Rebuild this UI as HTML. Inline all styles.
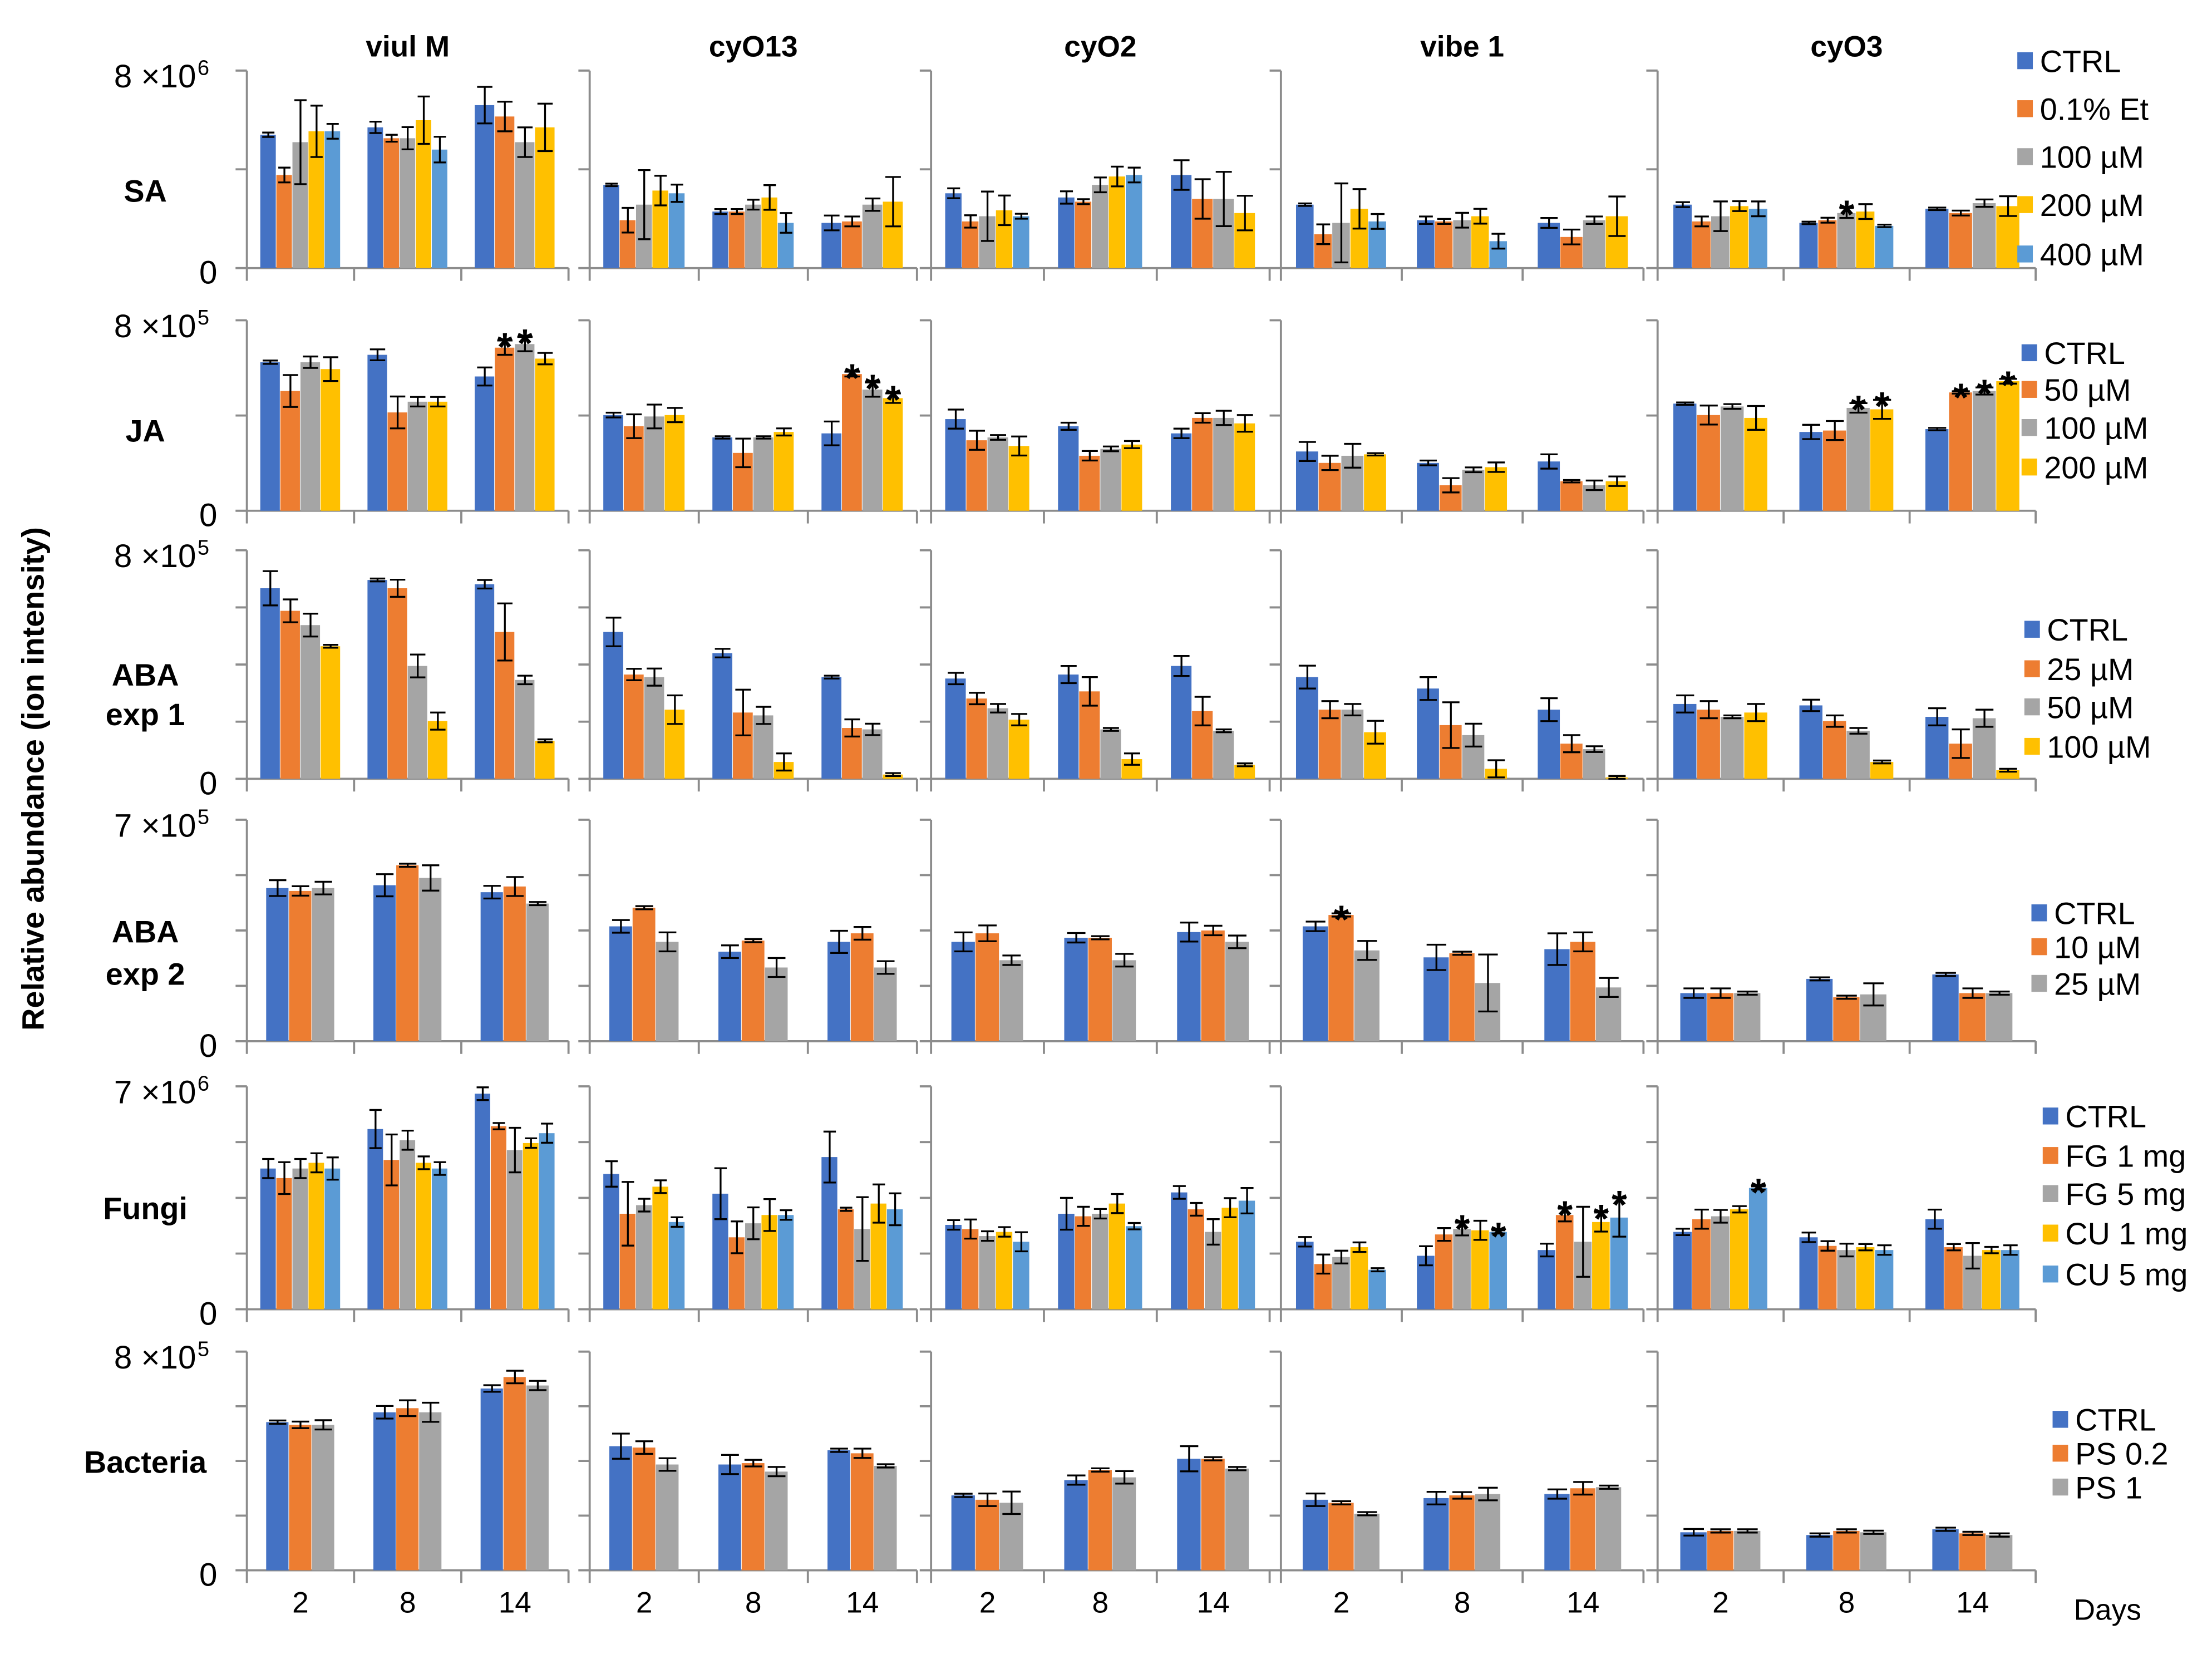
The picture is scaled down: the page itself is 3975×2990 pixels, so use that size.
<!DOCTYPE html>
<html><head><meta charset="utf-8"><style>
html,body{margin:0;padding:0;background:#fff;}
svg{display:block;font-family:"Liberation Sans",Arial,sans-serif;}
</style></head><body>
<svg id="chart" width="3975" height="2990" viewBox="0 0 1568 1179.4" xmlns="http://www.w3.org/2000/svg">
<text x="0" y="0" transform="translate(31,552) rotate(-90)" text-anchor="middle" font-size="22" font-weight="bold">Relative abundance  (ion intensity)</text>
<text x="1470" y="1148" font-size="21">Days</text>
</svg>
<script>
const colNames = ['viul M','cyO13','cyO2','vibe 1','cyO3'];
const days = ['2','8','14'];
const colors = ['#4472C4','#ED7D31','#A5A5A5','#FFC000','#5B9BD5'];

const saMeans = [
 [[5.4,3.77,5.1,5.54,5.54],[5.7,5.26,5.26,5.99,4.8],[6.6,6.14,5.1,5.7]],
 [[3.37,1.94,2.57,3.14,3.03],[2.29,2.29,2.57,2.86,1.83],[1.83,1.89,2.57,2.69]],
 [[3.03,1.89,2.1,2.34,2.1],[2.86,2.69,3.37,3.71,3.77],[3.77,2.8,2.8,2.23]],
 [[2.57,1.37,1.83,2.4,1.89],[1.94,1.89,1.94,2.1,1.09],[1.83,1.26,1.94,2.1]],
 [[2.57,1.89,2.1,2.51,2.4],[1.83,1.94,2.23,2.29,1.71],[2.4,2.23,2.63,2.51]]];
const saErrs = [
 [[0.09,0.3,1.7,1.04,0.3],[0.23,0.14,0.45,0.96,0.52],[0.74,0.6,0.6,0.96]],
 [[0.05,0.5,1.4,0.6,0.35],[0.1,0.1,0.2,0.5,0.4],[0.3,0.2,0.25,1.0]],
 [[0.2,0.25,1.0,0.6,0.1],[0.25,0.1,0.3,0.4,0.3],[0.6,0.8,1.1,0.7]],
 [[0.05,0.4,1.6,0.8,0.3],[0.15,0.1,0.3,0.3,0.3],[0.2,0.3,0.15,0.8]],
 [[0.1,0.2,0.6,0.2,0.3],[0.05,0.1,0.2,0.3,0.05],[0.05,0.1,0.15,0.4]]];
const jaMeans = [
 [[6.24,5.03,6.24,5.95],[6.55,4.13,4.58,4.58],[5.64,6.85,7.0,6.39]],
 [[4.02,3.55,3.96,4.02],[3.08,2.43,3.08,3.31],[3.25,5.74,5.09,4.73]],
 [[3.85,2.96,3.08,2.72],[3.55,2.31,2.6,2.78],[3.25,3.9,3.9,3.67]],
 [[2.49,2.01,2.31,2.37],[2.01,1.07,1.72,1.83],[2.07,1.24,1.07,1.24]],
 [[4.5,4.02,4.38,3.9],[3.31,3.37,4.32,4.26],[3.43,4.97,5.03,5.44]]];
const jaErrs = [
 [[0.07,0.67,0.24,0.5],[0.23,0.67,0.2,0.2],[0.38,0.3,0.3,0.24]],
 [[0.1,0.5,0.5,0.3],[0.05,0.6,0.05,0.15],[0.5,0.1,0.3,0.2]],
 [[0.4,0.4,0.1,0.4],[0.15,0.2,0.1,0.15],[0.2,0.2,0.3,0.35]],
 [[0.4,0.3,0.5,0.05],[0.1,0.3,0.1,0.2],[0.3,0.05,0.2,0.2]],
 [[0.05,0.4,0.1,0.5],[0.3,0.4,0.2,0.4],[0.05,0.05,0.15,0.1]]];
const aba1Means = [
 [[6.67,5.88,5.38,4.64],[6.96,6.67,3.95,2.02],[6.81,5.14,3.46,1.33]],
 [[5.14,3.65,3.56,2.42],[4.4,2.32,2.22,0.59],[3.56,1.78,1.73,0.15]],
 [[3.51,2.81,2.47,2.07],[3.65,3.06,1.73,0.69],[3.95,2.37,1.68,0.49]],
 [[3.56,2.42,2.42,1.63],[3.16,1.88,1.53,0.35],[2.42,1.23,1.04,0.05]],
 [[2.62,2.42,2.17,2.32],[2.57,2.02,1.68,0.59],[2.17,1.23,2.12,0.3]]];
const aba1Errs = [
 [[0.6,0.4,0.4,0.05],[0.05,0.3,0.4,0.3],[0.15,1.0,0.15,0.05]],
 [[0.5,0.2,0.3,0.5],[0.15,0.8,0.3,0.3],[0.05,0.3,0.2,0.05]],
 [[0.2,0.2,0.15,0.2],[0.3,0.5,0.05,0.2],[0.35,0.5,0.05,0.05]],
 [[0.4,0.3,0.2,0.4],[0.4,0.8,0.4,0.3],[0.4,0.3,0.1,0.05]],
 [[0.3,0.3,0.05,0.3],[0.2,0.2,0.1,0.05],[0.3,0.5,0.3,0.05]]];
const aba2Means = [
 [[4.84,4.75,4.84],[4.93,5.56,5.16],[4.71,4.89,4.35]],
 [[3.63,4.22,3.14],[2.83,3.18,2.33],[3.14,3.41,2.33]],
 [[3.14,3.41,2.56],[3.27,3.27,2.56],[3.45,3.5,3.14]],
 [[3.63,3.99,2.87],[2.65,2.78,1.84],[2.91,3.14,1.7]],
 [[1.52,1.52,1.52],[1.97,1.39,1.48],[2.11,1.52,1.52]]];
const aba2Errs = [
 [[0.25,0.15,0.2],[0.35,0.05,0.4],[0.2,0.3,0.05]],
 [[0.2,0.05,0.3],[0.2,0.05,0.3],[0.35,0.2,0.2]],
 [[0.3,0.25,0.15],[0.15,0.05,0.2],[0.3,0.15,0.2]],
 [[0.15,0.05,0.3],[0.4,0.05,0.9],[0.5,0.3,0.3]],
 [[0.15,0.15,0.05],[0.05,0.05,0.35],[0.05,0.15,0.05]]];
const fungiMeans = [
 [[4.42,4.12,4.42,4.6,4.42],[5.66,4.69,5.31,4.6,4.42],[6.77,5.75,5.0,5.22,5.53]],
 [[4.25,3.0,3.27,3.85,2.74],[3.63,2.26,2.7,2.96,2.96],[4.78,3.14,2.52,3.32,3.14]],
 [[2.65,2.52,2.3,2.43,2.12],[3.0,2.92,3.0,3.32,2.61],[3.67,3.14,2.43,3.19,3.41]],
 [[2.12,1.42,1.64,1.95,1.24],[1.68,2.35,2.52,2.48,2.43],[1.86,2.96,2.12,2.74,2.88]],
 [[2.43,2.83,2.92,3.14,3.81],[2.26,1.99,1.86,1.95,1.86],[2.83,1.95,1.68,1.86,1.86]]];
const fungiErrs = [
 [[0.3,0.5,0.3,0.3,0.35],[0.6,0.8,0.3,0.2,0.2],[0.2,0.1,0.7,0.15,0.3]],
 [[0.4,1.0,0.2,0.2,0.15],[0.8,0.5,0.5,0.5,0.15],[0.8,0.05,1.0,0.6,0.5]],
 [[0.15,0.3,0.15,0.15,0.3],[0.5,0.3,0.15,0.3,0.1],[0.2,0.2,0.4,0.3,0.4]],
 [[0.15,0.3,0.2,0.15,0.05],[0.3,0.2,0.2,0.3,0.05],[0.2,0.2,1.1,0.3,0.6]],
 [[0.1,0.3,0.2,0.1,0.05],[0.15,0.15,0.2,0.1,0.15],[0.3,0.1,0.4,0.1,0.15]]];
const bactMeans = [
 [[5.42,5.32,5.32],[5.78,5.93,5.78],[6.65,7.07,6.76]],
 [[4.54,4.49,3.87],[3.87,3.92,3.61],[4.39,4.28,3.82]],
 [[2.74,2.58,2.47],[3.3,3.67,3.4],[4.08,4.08,3.72]],
 [[2.58,2.47,2.07],[2.64,2.74,2.79],[2.79,3.0,3.04]],
 [[1.39,1.44,1.44],[1.29,1.44,1.39],[1.5,1.35,1.29]]];
const bactErrs = [
 [[0.06,0.12,0.17],[0.23,0.29,0.35],[0.12,0.23,0.17]],
 [[0.46,0.23,0.23],[0.35,0.12,0.17],[0.06,0.17,0.06]],
 [[0.06,0.23,0.41],[0.17,0.06,0.23],[0.46,0.06,0.06]],
 [[0.23,0.06,0.06],[0.23,0.12,0.23],[0.17,0.23,0.06]],
 [[0.12,0.06,0.06],[0.06,0.06,0.06],[0.06,0.06,0.06]]];

const saStars = [[4,1,2]];
const jaStars = [[0,2,1],[0,2,2],[1,2,1],[1,2,2],[1,2,3],[4,1,2],[4,1,3],[4,2,1],[4,2,2],[4,2,3]];
const aba2Stars = [[3,0,1]];
const fungiStars = [[3,1,2],[3,1,4],[3,2,1],[3,2,3],[3,2,4],[4,0,4]];

const saLegend = ['CTRL','0.1% Et','100 µM','200 µM','400 µM'];
const jaLegend = ['CTRL','50 µM','100 µM','200 µM'];
const aba1Legend = ['CTRL','25 µM','50 µM','100 µM'];
const aba2Legend = ['CTRL','10 µM','25 µM'];
const fungiLegend = ['CTRL','FG 1 mg','FG 5 mg','CU 1 mg','CU 5 mg'];
const bactLegend = ['CTRL','PS 0.2','PS 1'];

// layout
const cols = [{x:175,w:228},{x:418,w:232},{x:660,w:240},{x:908,w:257},{x:1175,w:268}];
const rows = [
 {id:'sa',label:['SA'],ly:[135],top:50,base:190,max:8,ticks:2,top1:'8 ×10',sup:'6',means:saMeans,errs:saErrs,stars:saStars,legend:saLegend,lx:1430,lys:[43,77,111,145,180]},
 {id:'ja',label:['JA'],ly:[305],top:227,base:362,max:8,ticks:2,top1:'8 ×10',sup:'5',means:jaMeans,errs:jaErrs,stars:jaStars,legend:jaLegend,lx:1433,lys:[250,276,303,331]},
 {id:'aba1',label:['ABA','exp 1'],ly:[478,506],top:390,base:552,max:8,ticks:4,top1:'8 ×10',sup:'5',means:aba1Means,errs:aba1Errs,stars:[],legend:aba1Legend,lx:1435,lys:[446,474,501,529]},
 {id:'aba2',label:['ABA','exp 2'],ly:[660,690],top:581,base:738,max:7,ticks:4,top1:'7 ×10',sup:'5',means:aba2Means,errs:aba2Errs,stars:aba2Stars,legend:aba2Legend,lx:1440,lys:[647,671,697]},
 {id:'fungi',label:['Fungi'],ly:[856],top:770,base:928,max:7,ticks:4,top1:'7 ×10',sup:'6',means:fungiMeans,errs:fungiErrs,stars:fungiStars,legend:fungiLegend,lx:1448,lys:[791,819,846,874,903]},
 {id:'bacteria',label:['Bacteria'],ly:[1036],top:958,base:1113,max:8,ticks:4,top1:'8 ×10',sup:'5',means:bactMeans,errs:bactErrs,stars:[],legend:bactLegend,lx:1455,lys:[1006,1030,1054]}
];

const svg = document.getElementById('chart');
const NS = 'http://www.w3.org/2000/svg';
function mk(tag, attrs, parent){
  const e = document.createElementNS(NS, tag);
  for (const k in attrs) e.setAttribute(k, attrs[k]);
  (parent||svg).appendChild(e);
  return e;
}
const AX = '#8c8c8c';

colNames.forEach((n,i)=>{
  const t = mk('text',{x:cols[i].x+cols[i].w/2,y:40,'text-anchor':'middle','font-size':21,'font-weight':'bold'});
  
  
  t.textContent = n;
});

rows.forEach((r)=>{
  const g = mk('g',{});
  
  
  const yv = v => r.base - v/r.max*(r.base-r.top);
  r.label.forEach((s,k)=>{
    const t = mk('text',{x:103,y:r.ly[k]+8,'text-anchor':'middle','font-size':22,'font-weight':'bold'},g);
    
    
    t.textContent = s;
  });
  const tl = mk('text',{x:139,y:r.top+12,'text-anchor':'end','font-size':23},g);
  
  
  tl.textContent = r.top1;
  const sp = mk('text',{x:140,y:r.top+3,'font-size':15},g);
  
  
  sp.textContent = r.sup;
  const z = mk('text',{x:154,y:r.base+11,'text-anchor':'end','font-size':23},g);
  
  
  z.textContent = '0';
  const tickVals=[]; for(let k=0;k<=r.ticks;k++) tickVals.push(r.max*k/r.ticks);

  cols.forEach((c,ci)=>{
    const pg = mk('g',{},g);
    
    
    const ya = mk('line',{x1:c.x,y1:r.top,x2:c.x,y2:r.base,stroke:AX,'stroke-width':1.5},pg);
    
    
    tickVals.forEach(v=>{
      const tk = mk('line',{x1:c.x-8,y1:yv(v),x2:c.x,y2:yv(v),stroke:AX,'stroke-width':1.5},pg);
      
      
    });
    const xa = mk('line',{x1:c.x-8,y1:r.base,x2:c.x+c.w,y2:r.base,stroke:AX,'stroke-width':1.5},pg);
    
    
    const gw = c.w/3;
    for(let k=0;k<=3;k++){
      const xt = mk('line',{x1:c.x+k*gw,y1:r.base,x2:c.x+k*gw,y2:r.base+9,stroke:AX,'stroke-width':1.5},pg);
      
      
    }
    if (r.id==='bacteria'){
      days.forEach((d,k)=>{
        const t = mk('text',{x:c.x+(k+0.5)*gw,y:r.base+30,'text-anchor':'middle','font-size':21},pg);
        
        
        t.textContent = d;
      });
    }
    r.means[ci].forEach((grp,gi)=>{
      const n = grp.length;
      const occ = (r.legend.length>=4 ? 0.75 : 0.64)*gw;
      const bw = occ/n;
      const x0 = c.x + gi*gw + (gw-occ)/2;
      grp.forEach((v,si)=>{
        const x = x0 + si*bw;
        const b = mk('rect',{x:x,y:yv(v),width:bw-0.4,height:r.base-yv(v),fill:colors[si]},pg);
        
        
        const e = r.errs[ci][gi][si];
        const cx = x+bw/2, cw = bw*0.38;
        const eb = mk('path',{d:`M${cx},${yv(v+e)}V${yv(v-e)}M${cx-cw},${yv(v+e)}H${cx+cw}M${cx-cw},${yv(v-e)}H${cx+cw}`,stroke:'#000','stroke-width':1.3,fill:'none'},pg);
        
        
      });
    });
  });
  r.stars.forEach(s=>{
    const [ci,gi,si] = s;
    const c = cols[ci], gw = c.w/3;
    const n = r.means[ci][gi].length;
    const occ = (r.legend.length>=4 ? 0.75 : 0.64)*gw, bw = occ/n;
    const cx = c.x + gi*gw + (gw-occ)/2 + (si+0.5)*bw;
    const v = r.means[ci][gi][si] + r.errs[ci][gi][si];
    const st = mk('text',{x:cx,y:yv(v)+14,'text-anchor':'middle','font-size':28,'font-weight':'bold'},g);
    
    
    st.textContent = '*';
  });
  r.legend.forEach((name,li)=>{
    const lg = mk('g',{},g);
    
    
    mk('rect',{x:r.lx,y:r.lys[li]-6,width:11,height:12,fill:colors[li]},lg);
    const t = mk('text',{x:r.lx+16,y:r.lys[li]+8,'font-size':22},lg);
    t.textContent = name;
  });
});
</script>
</body></html>
